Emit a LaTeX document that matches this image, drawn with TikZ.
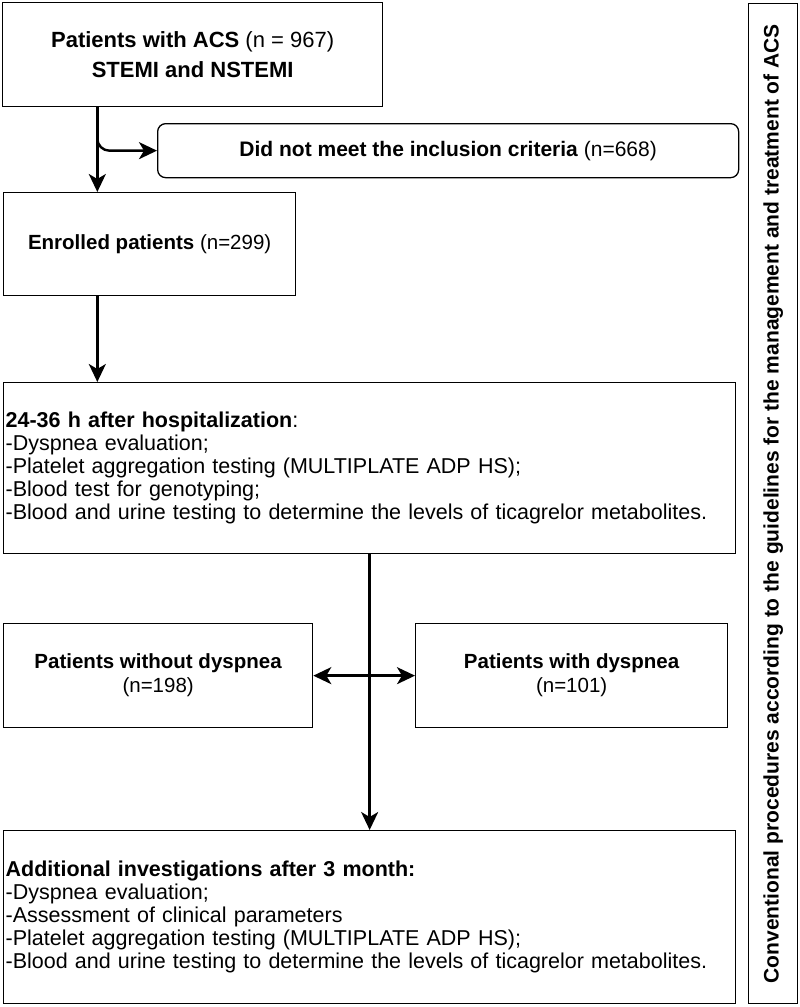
\documentclass[tikz,border=0pt]{standalone}
\usepackage{fontspec}
\setmainfont{Liberation Sans}
\usetikzlibrary{arrows.meta,calc}
\begin{document}
\begin{tikzpicture}[x=1pt,y=-1pt,
  box/.style={draw, line width=1.3pt, rectangle, inner sep=0pt, anchor=north west},
  rbox/.style={box, rounded corners=8pt},
  body/.style={font=\fontsize{21.5}{23}\selectfont},
  small/.style={font=\fontsize{20.5}{24}\selectfont},
  title/.style={font=\fontsize{22}{30}\selectfont},
  >={Stealth[length=18pt,width=17pt,inset=5pt]},
  conn/.style={line width=2.4pt, ->},
  dconn/.style={line width=2.4pt, <->}
]
\useasboundingbox (0,0) rectangle (800,1007);
% boxes
\node[box, minimum width=380, minimum height=104, title, align=center] (b1) at (2,2)
  {\textbf{Patients with ACS} (n = 967)\\\textbf{STEMI and NSTEMI}};
\node[rbox, minimum width=581, minimum height=54, font=\fontsize{21}{24}\selectfont] (rej) at (157,123)
  {\textbf{Did not meet the inclusion criteria} (n=668)};
\node[box, minimum width=292, minimum height=103, small] (b2) at (3,192)
  {\textbf{Enrolled patients} (n=299)};
\node[box, minimum width=732, minimum height=171, body, align=left, text width=728, inner xsep=2pt] (b3) at (3,382)
  {\textbf{24-36 h after hospitalization}:\\
   -Dyspnea evaluation;\\
   -Platelet aggregation testing (MULTIPLATE ADP HS);\\
   -Blood test for genotyping;\\
   -Blood and urine testing to determine the levels of ticagrelor metabolites.};
\node[box, minimum width=309, minimum height=104, small, align=center] (nod) at (3,623)
  {\textbf{Patients without dyspnea}\\(n=198)};
\node[box, minimum width=312, minimum height=104, small, align=center] (wd) at (415,623)
  {\textbf{Patients with dyspnea}\\(n=101)};
\node[box, minimum width=732, minimum height=173, body, align=left, text width=728, inner xsep=2pt] (b5) at (3,830)
  {\textbf{Additional investigations after 3 month:}\\
   -Dyspnea evaluation;\\
   -Assessment of clinical parameters\\
   -Platelet aggregation testing (MULTIPLATE ADP HS);\\
   -Blood and urine testing to determine the levels of ticagrelor metabolites.};
\node[box, minimum width=49, minimum height=1000] (side) at (748,3) {};
\node[rotate=90, font=\fontsize{21}{24}\selectfont\bfseries] (sidetxt) at (side.center)
  {Conventional procedures according to the guidelines for the management and treatment of ACS};
% connectors
\coordinate (s1) at ($(b1.south west)!0.25!(b1.south east)$);
\draw[conn] (s1) -- (s1 |- b2.north);
\draw[conn, rounded corners=12pt] (s1) |- (rej.west);
\coordinate (s2) at (b2.south -| s1);
\draw[conn] (s2) -- (s2 |- b3.north);
\draw[conn] (b3.south) -- (b5.north);
\draw[dconn] (nod.east) -- (wd.west);
\end{tikzpicture}
\end{document}
